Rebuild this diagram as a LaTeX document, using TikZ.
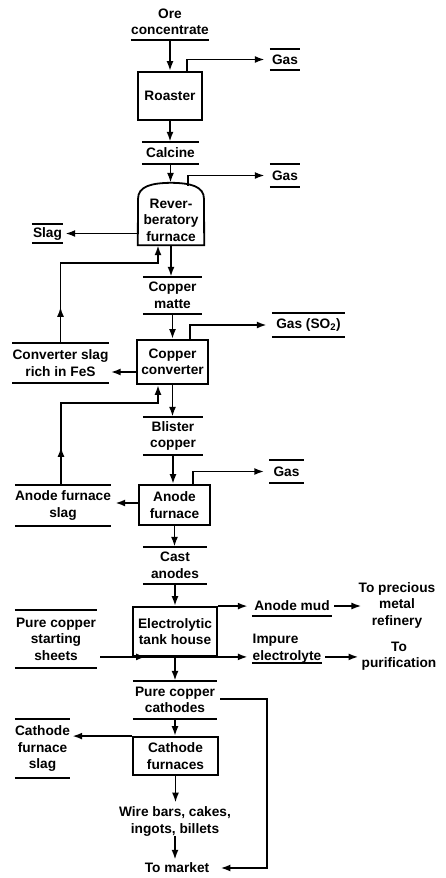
\documentclass[tikz,border=0pt]{standalone}
\usepackage{fontspec}
\setmainfont{Liberation Sans}
\usetikzlibrary{arrows.meta,calc}
\begin{document}
\begin{tikzpicture}[x=1pt,y=-1pt,
  every node/.style={font=\fontsize{13.7}{16.5}\selectfont\bfseries, inner sep=0pt, align=center},
  box/.style={draw, line width=1.8pt},
  rule/.style={line width=1.6pt},
  arr/.style={line width=1.9pt, -{Latex[length=10pt,width=7pt]}}]
\useasboundingbox (0,0) rectangle (445,878);

% ---------- nodes ----------
\node[minimum width=78pt, minimum height=36pt] (ore) at (170,22) {Ore\\concentrate};
\node[minimum width=30pt, minimum height=21pt] (gasA) at (285,59.5) {Gas};
\node[box, minimum width=64pt, minimum height=48pt] (roaster) at (170,96) {Roaster};
\node[minimum width=57pt, minimum height=22pt] (calcine) at (170.5,153) {Calcine};
\node[minimum width=30pt, minimum height=23pt] (gasB) at (285,175.5) {Gas};
\node[minimum width=66pt, minimum height=62pt] (reverb) at (171,214) {};
\node (reverbtxt) at (171,220) {Rever-\\beratory\\furnace};
\node[minimum width=31pt, minimum height=19pt] (slag) at (47.5,233.5) {Slag};
\node[minimum width=59pt, minimum height=37pt] (matte) at (172.5,295.5) {Copper\\matte};
\node[minimum width=73pt, minimum height=24pt] (gasC) at (308.5,325) {Gas (SO\textsubscript{2})};
\node[box, minimum width=71pt, minimum height=44pt] (conv) at (172.5,362) {Copper\\converter};
\node[minimum width=95pt, minimum height=40pt] (cslag) at (60.5,363) {Converter slag\\rich in FeS};
\node[minimum width=60pt, minimum height=38pt] (blister) at (173,436) {Blister\\copper};
\node[minimum width=34pt, minimum height=23pt] (gasD) at (286.5,471.5) {Gas};
\node[box, minimum width=71pt, minimum height=40pt] (anode) at (174.5,505) {Anode\\furnace};
\node[minimum width=96pt, minimum height=41pt] (aslag) at (63,505.5) {Anode furnace\\slag};
\node[minimum width=64pt, minimum height=37pt] (cast) at (175,565.5) {Cast\\anodes};
\node[box, minimum width=84pt, minimum height=49pt] (elec) at (175,631.5) {Electrolytic\\tank house};
\node[minimum width=80pt, minimum height=20pt] (mud) at (292,606) {Anode mud};
\node (prec) at (397,605) {To precious\\metal\\refinery};
\node[minimum width=82pt, minimum height=58pt] (sheets) at (56,639) {Pure copper\\starting\\sheets};
\node[minimum width=70pt, minimum height=29pt, align=left] (impure) at (287,648.5) {Impure\\electrolyte};
\node (purif) at (399,656) {To\\purification};
\node[minimum width=84pt, minimum height=38pt] (cath) at (175,700) {Pure copper\\cathodes};
\node[box, minimum width=85pt, minimum height=38pt] (cfurn) at (175.5,756) {Cathode\\furnaces};
\node[minimum width=55pt, minimum height=59pt] (cfslag) at (42.5,748.5) {Cathode\\furnace\\slag};
\node (wire) at (175,821.5) {Wire bars, cakes,\\ingots, billets};
\node (market) at (177,868) {To market};

% ---------- reverberatory furnace shape ----------
\draw[box] (reverb.south west) -- (138,199) .. controls (138,186) and (152,183) .. (reverb.north)
  .. controls (190,183) and (204,186) .. (204,199) -- (reverb.south east) -- cycle;

% ---------- over/under rules ----------
\foreach \n in {gasA,calcine,gasB,slag,matte,gasC,cslag,blister,gasD,aslag,cast,sheets,cath,cfslag}
  \draw[rule] (\n.north west) -- (\n.north east) (\n.south west) -- (\n.south east);
\foreach \n in {ore,mud,impure}
  \draw[rule] (\n.south west) -- (\n.south east);

% ---------- connectors ----------
\draw[arr] (ore.south) -- (ore.south |- roaster.north);
\draw[arr] ([xshift=17pt]roaster.north) |- ([xshift=-5pt]gasA.west);
\draw[arr] (roaster.south) -- (roaster.south |- calcine.north);
\draw[arr] (calcine.south) -- (calcine.south |- reverb.north);
\draw[arr] ($(reverb.north)+(17,3)$) |- ([xshift=-5pt]gasB.west);
\draw[arr] (reverb.west |- slag.east) -- ($(slag.east)+(2,0)$);
\draw[arr] (cslag.north) -- ++(0,-36);
\draw[arr] (cslag.north) -- ++(0,-80) -| ($(reverb.south)+(-13,0)$);
\draw[arr] (reverb.south) -- (reverb.south |- matte.north);
\draw[arr] (matte.south) -- (matte.south |- conv.north);
\draw[arr] ($(conv.north)+(17.5,0)$) |- ([xshift=-5pt]gasC.west);
\draw[arr] ($(conv.west)+(0,10)$) -- ($(conv.west -| cslag.east)+(2,10)$);
\draw[arr] ($(aslag.north)+(-2,0)$) -- ++(0,-38);
\draw[arr] ($(aslag.north)+(-2,0)$) -- ++(0,-82) -| ($(conv.south)+(-14.5,0)$);
\draw[arr] (conv.south) -- (conv.south |- blister.north);
\draw[arr] (blister.south) -- (blister.south |- anode.north);
\draw[arr] ($(anode.north)+(18.5,0)$) |- ([xshift=-5pt]gasD.west);
\draw[arr] ($(anode.west)+(0,-2)$) -- ($(anode.west -| aslag.east)+(4,-2)$);
\draw[arr] (anode.south) -- (anode.south |- cast.north);
\draw[arr] (cast.south) -- (cast.south |- elec.north);
\draw[arr] (elec.north east) -- ($(elec.north east -| mud.west)+(-4,0)$);
\draw[arr] ($(mud.east)+(2,0)$) -- ($(mud.east -| prec.west)+(3,0)$);
\draw[arr] ($(sheets.east |- elec.south)+(3,0)$) -- ($(elec.south west)+(14,0)$);
\draw[arr] ($(sheets.east |- elec.south)+(3,0)$) -- ($(elec.south -| impure.west)+(-4,0)$);
\draw[arr] ($(impure.east |- elec.south)+(3,0)$) -- ($(elec.south -| purif.west)+(-3,0)$);
\draw[arr] (elec.south) -- (elec.south |- cath.north);
\draw[arr] ($(cath.east)+(3,-1)$) -- ++(47,0) |- ($(market.east)+(11,0)$);
\draw[arr] (cath.south) -- (cath.south |- cfurn.north);
\draw[arr] (cfurn.north west) -- ($(cfurn.north west -| cfslag.east)+(2,0)$);
\draw[arr] (cfurn.south) -- ($(cfurn.south |- wire.north)+(0,-4)$);
\draw[arr] (wire.south) -- ($(wire.south |- market.north)+(0,-3)$);
\end{tikzpicture}
\end{document}
